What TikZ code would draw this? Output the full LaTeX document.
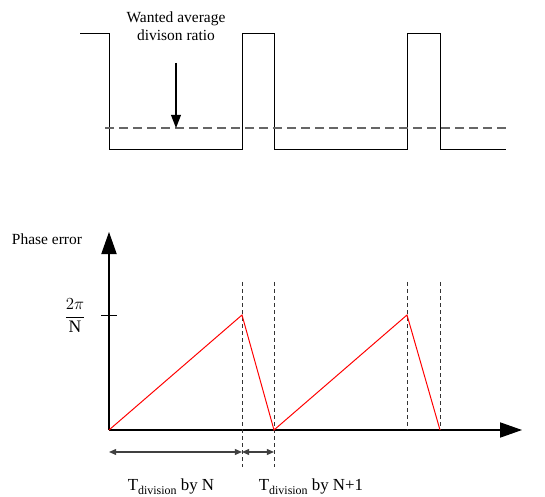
\documentclass[tikz,border=0pt]{standalone}
\usepackage{amsmath}
\usepackage{fontspec}
\setmainfont{Liberation Serif}
\usepackage{tikz}
\usetikzlibrary{arrows.meta}

\newcommand{\tdiv}{T\raisebox{-0.28em}{\fontsize{8.5}{10}\selectfont division}}

\begin{document}
\begin{tikzpicture}[x=0.025cm, y=-0.025cm,
				lbl/.style={font=\fontsize{11}{13.5}\selectfont, inner sep=0pt, align=center},
				wave/.style={draw, line width=0.7pt},
				avg/.style={draw=black!60, line width=0.8pt, dash pattern=on 0.225cm off 0.125cm},
				periodmark/.style={draw=black!80, line width=0.7pt, dash pattern=on 0.1cm off 0.075cm},
				axis/.style={draw, line width=0.8pt, -{Triangle[length=0.55cm, width=0.38cm]}},
				period/.style={draw=black!75, line width=0.8pt, {Triangle[length=0.18cm, width=0.15cm]}-{Triangle[length=0.18cm, width=0.15cm]}},
				phase/.style={draw=red, line width=0.7pt}
			]
			\useasboundingbox (0,0) rectangle (545,497);

			% Divider output and wanted average ratio
			\draw[wave] (80,33) -| (109,149) -| (242,33) -| (274,149) -| (407,33) -| (440,149) -- (506,149);
			\draw[avg] (105,128) -- (510,128);
			\node[lbl, anchor=base] (wanted) at (176,41) {Wanted average\\divison ratio};
			\coordinate (avgtop) at (176,63);
			\coordinate (avgbot) at (176,128);
			\draw[line width=0.8pt, -{Triangle[length=0.33cm, width=0.25cm]}] (avgtop) -- (avgbot);

			% Phase error axes
			\coordinate (o) at (109,430);
			\coordinate (ytop) at (109,232);
			\coordinate (xend) at (522,430);
			\draw[axis] (o) -- (ytop);
			\draw[axis] (o) -- (xend);
			\node[lbl, anchor=base] (ylabel) at (47,245) {Phase error};
			\coordinate (tickl) at (101,315);
			\coordinate (tickr) at (117,315);
			\draw[line width=0.7pt] (tickl) -- (tickr);
			\node[lbl, font=\fontsize{12.5}{15}\selectfont] (peak) at (75,316) {$\dfrac{2\pi}{\text{N}}$};

			% Period markers
			\foreach \x/\y in {242/467, 274/467, 407/430, 440/430}
				\draw[periodmark] (\x,282) -- (\x,\y);

			% Phase error ramps
			\coordinate (p1) at (242,315);
			\coordinate (z1) at (274,430);
			\coordinate (p2) at (407,315);
			\coordinate (z2) at (440,430);
			\draw[phase] (o) -- (p1) -- (z1) -- (p2) -- (z2);

			% Division periods
			\coordinate (a0) at (109,452);
			\coordinate (a1) at (242,452);
			\coordinate (a2) at (274,452);
			\draw[period] (a0) -- (a1);
			\draw[period] (a1) -- (a2);
			\node[lbl, font=\fontsize{12}{14}\selectfont, anchor=base] (tn) at (171,490) {\tdiv{} by N};
			\node[lbl, font=\fontsize{12}{14}\selectfont, anchor=base] (tn1) at (311,490) {\tdiv{} by N+1};

		\end{tikzpicture}
\end{document}
